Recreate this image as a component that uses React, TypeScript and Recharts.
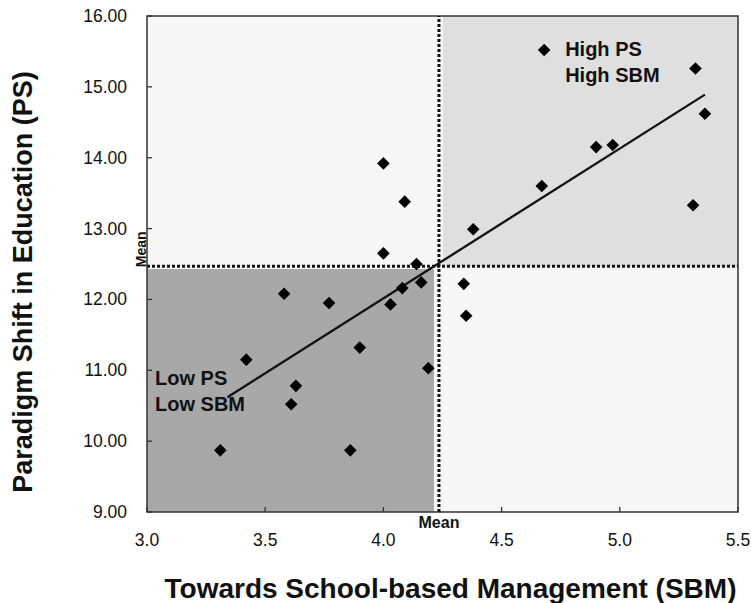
import { ScatterChart, Scatter, XAxis, YAxis, ReferenceArea, ReferenceLine, Label } from 'recharts';

const FONT = '"Liberation Sans", Arial, sans-serif';

// SBM (x) vs PS (y) scores, one entry per school
const sbmScores = [3.31, 3.86, 3.42, 3.61, 3.63, 3.58, 3.77, 3.90, 4.00, 4.00, 4.03, 4.08, 4.09, 4.14, 4.16, 4.19, 4.34, 4.35, 4.38, 4.67, 4.90, 4.97, 5.31, 5.32, 5.36];
const psScores  = [9.87, 9.87, 11.15, 10.52, 10.78, 12.08, 11.95, 11.32, 13.92, 12.65, 11.93, 12.16, 13.38, 12.50, 12.24, 11.03, 12.22, 11.77, 12.99, 13.60, 14.15, 14.18, 13.33, 15.26, 14.62];

const xTicks = [3.0, 3.5, 4.0, 4.5, 5.0, 5.5];
const yTicks = [9, 10, 11, 12, 13, 14, 15, 16];

const meanSBM = 4.235;
const meanPS = 12.47;

// fitted regression line end points
const trendX = [3.34, 5.36];
const trendY = [10.62, 14.89];

// marker drawn next to the "High PS / High SBM" note
const highNote = [{ x: 4.68, y: 15.52 }];
const highLines = ['High PS', 'High SBM'];
const lowLines = ['Low PS', 'Low SBM'];

const points = sbmScores.map((x, i) => ({ x, y: psScores[i] }));

const Diamond = ({ cx, cy }: any) => (
  <polygon points={`${cx},${cy - 6.3} ${cx + 6.3},${cy} ${cx},${cy + 6.3} ${cx - 6.3},${cy}`} fill="#000" />
);

const HighNote = ({ cx, cy }: any) => (
  <g>
    <Diamond cx={cx} cy={cy} />
    {highLines.map((t, i) => (
      <text key={t} x={cx + 21} y={cy + 6 + i * 26} fontFamily={FONT} fontWeight="bold" fontSize={20} fill="#111">{t}</text>
    ))}
  </g>
);

const XTick = ({ x, y, payload }: any) => (
  <g>
    <line x1={x} x2={x} y1={y} y2={y - 5} stroke="#333" strokeWidth={1.3} />
    <text x={x} y={y + 34} textAnchor="middle" fontFamily={FONT} fontSize={17.5} fill="#111">{Number(payload.value).toFixed(1)}</text>
  </g>
);

const YTick = ({ x, y, payload }: any) => (
  <g>
    <line x1={x} x2={x + 5} y1={y} y2={y} stroke="#333" strokeWidth={1.3} />
    <text x={x - 20} y={y + 6} textAnchor="end" fontFamily={FONT} fontSize={17.5} fill="#111">{Number(payload.value).toFixed(2)}</text>
  </g>
);

export default function App() {
  return (
    <div style={{ position: 'absolute', left: 0, top: 0, background: '#fff' }}>
      <ScatterChart width={751} height={603} margin={{ top: 16, right: 13, bottom: 0, left: 0 }}>
        <XAxis
          type="number" dataKey="x" domain={[3, 5.5]} ticks={xTicks} allowDataOverflow
          height={91} axisLine={false} tickLine={false} tickSize={0} tickMargin={0} tick={<XTick />}
        >
          <Label
            content={({ viewBox }: any) => (
              <text x={viewBox.x + viewBox.width / 2 + 8} y={viewBox.y + 86} textAnchor="middle"
                fontFamily={FONT} fontWeight="bold" fontSize={28} fill="#111">
                Towards School-based Management (SBM)
              </text>
            )}
          />
        </XAxis>
        <YAxis
          type="number" dataKey="y" domain={[9, 16]} ticks={yTicks} allowDataOverflow
          width={147} axisLine={false} tickLine={false} tickSize={0} tickMargin={0} tick={<YTick />}
        >
          <Label
            content={({ viewBox }: any) => (
              <text transform={`translate(32, ${viewBox.y + viewBox.height / 2 + 18}) rotate(-90)`} textAnchor="middle"
                fontFamily={FONT} fontWeight="bold" fontSize={27} fill="#111">
                Paradigm Shift in Education (PS)
              </text>
            )}
          />
        </YAxis>

        <ReferenceArea x1={3} x2={5.5} y1={9} y2={16} fill="#f7f7f7" fillOpacity={1} />
        <ReferenceArea x1={meanSBM + 0.017} x2={5.5} y1={meanPS} y2={16} fill="#dfdfdf" fillOpacity={1} />
        <ReferenceArea
          x1={3} x2={meanSBM - 0.021} y1={9} y2={meanPS - 0.04} fill="#a8a8a8" fillOpacity={1}
          label={({ viewBox }: any) => (
            <g>
              {lowLines.map((t, i) => (
                <text key={t} x={viewBox.x + 8} y={viewBox.y + 116 + i * 26} fontFamily={FONT} fontWeight="bold" fontSize={20} fill="#111">{t}</text>
              ))}
            </g>
          )}
        />

        <ReferenceLine
          y={meanPS} stroke="#111" strokeWidth={3} strokeDasharray="3 2"
          label={({ viewBox }: any) => (
            <text transform={`translate(${viewBox.x - 1}, ${viewBox.y + 1}) rotate(-90)`} textAnchor="start"
              fontFamily={FONT} fontWeight="bold" fontSize={14} fill="#111">Mean</text>
          )}
        />
        <ReferenceLine
          x={meanSBM} stroke="#111" strokeWidth={3} strokeDasharray="3 2"
          label={({ viewBox }: any) => (
            <text x={viewBox.x} y={viewBox.y + viewBox.height + 16} textAnchor="middle"
              fontFamily={FONT} fontWeight="bold" fontSize={16} fill="#111">Mean</text>
          )}
        />

        <ReferenceLine
          segment={[{ x: trendX[0], y: trendY[0] }, { x: trendX[1], y: trendY[1] }]}
          stroke="#111" strokeWidth={2.3}
        />

        <Scatter data={points} shape={<Diamond />} isAnimationActive={false} />
        <Scatter data={highNote} shape={<HighNote />} isAnimationActive={false} />

        <ReferenceArea x1={3} x2={5.5} y1={9} y2={16} fill="none" stroke="#333" strokeWidth={1.5} />
      </ScatterChart>
    </div>
  );
}
